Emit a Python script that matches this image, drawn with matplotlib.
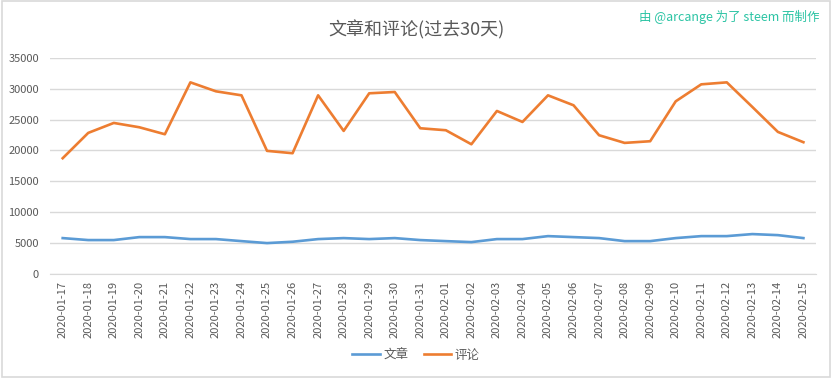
import matplotlib
matplotlib.use("Agg")
import matplotlib.pyplot as plt
from matplotlib.patches import Rectangle

plt.rcParams['font.family'] = ['Noto Sans CJK SC', 'DejaVu Sans']

dates = ["2020-01-17", "2020-01-18", "2020-01-19", "2020-01-20", "2020-01-21", "2020-01-22",
         "2020-01-23", "2020-01-24", "2020-01-25", "2020-01-26", "2020-01-27", "2020-01-28",
         "2020-01-29", "2020-01-30", "2020-01-31", "2020-02-01", "2020-02-02", "2020-02-03",
         "2020-02-04", "2020-02-05", "2020-02-06", "2020-02-07", "2020-02-08", "2020-02-09",
         "2020-02-10", "2020-02-11", "2020-02-12", "2020-02-13", "2020-02-14", "2020-02-15"]
posts = [5820, 5500, 5500, 5980, 5980, 5660, 5660, 5330, 5010, 5230, 5660, 5820,
         5660, 5820, 5500, 5330, 5170, 5660, 5660, 6140, 5980, 5820, 5330, 5330,
         5820, 6140, 6140, 6470, 6300, 5820]
comments = [18750, 22850, 24460, 23760, 22630, 31030, 29580, 28930, 19940, 19560, 28930, 23170,
            29260, 29470, 23600, 23280, 21010, 26400, 24620, 28930, 27320, 22470, 21230, 21500,
            27960, 30710, 31030, 27050, 23010, 21340]
yticks = [0, 5000, 10000, 15000, 20000, 25000, 30000, 35000]

fig = plt.figure(figsize=(8.32, 3.78), dpi=100)
fig.patches.append(Rectangle((0.002, 0.003), 0.996, 0.994, transform=fig.transFigure,
                             fill=False, edgecolor='#d9d9d9', linewidth=1.2))
ax = fig.add_axes([0.060, 0.275, 0.921, 0.572])

x = list(range(len(dates)))
ax.plot(x, posts, color='#5b9bd5', lw=1.9, label='文章')
ax.plot(x, comments, color='#ed7d31', lw=1.9, label='评论')

ax.set_xlim(-0.5, len(dates) - 0.5)
ax.set_ylim(0, 35000)
ax.set_yticks(yticks)
ax.set_yticklabels([str(v) for v in yticks])
ax.set_xticks(x)
ax.set_xticklabels(dates, rotation=90)
ax.grid(axis='y', color='#d9d9d9', lw=1)
ax.set_axisbelow(True)
for s in ['top', 'right', 'left']:
    ax.spines[s].set_visible(False)
ax.spines['bottom'].set_color('#d9d9d9')
ax.tick_params(axis='both', length=0, colors='#595959', labelsize=8)
ax.tick_params(axis='y', pad=8)
ax.tick_params(axis='x', pad=5)

fig.text(0.5, 0.92, '文章和评论(过去30天)', ha='center', va='center', fontsize=13, color='#595959')
fig.text(0.985, 0.955, '由 @arcange 为了 steem 而制作', ha='right', va='center', fontsize=9, color='#2bc4a4')

fig.legend(loc='center', bbox_to_anchor=(0.5, 0.06), ncol=2, frameon=False, fontsize=9,
           labelcolor='#595959', handlelength=2.2, columnspacing=1.2, handletextpad=0.3)

fig.savefig('out.png', dpi=100)
